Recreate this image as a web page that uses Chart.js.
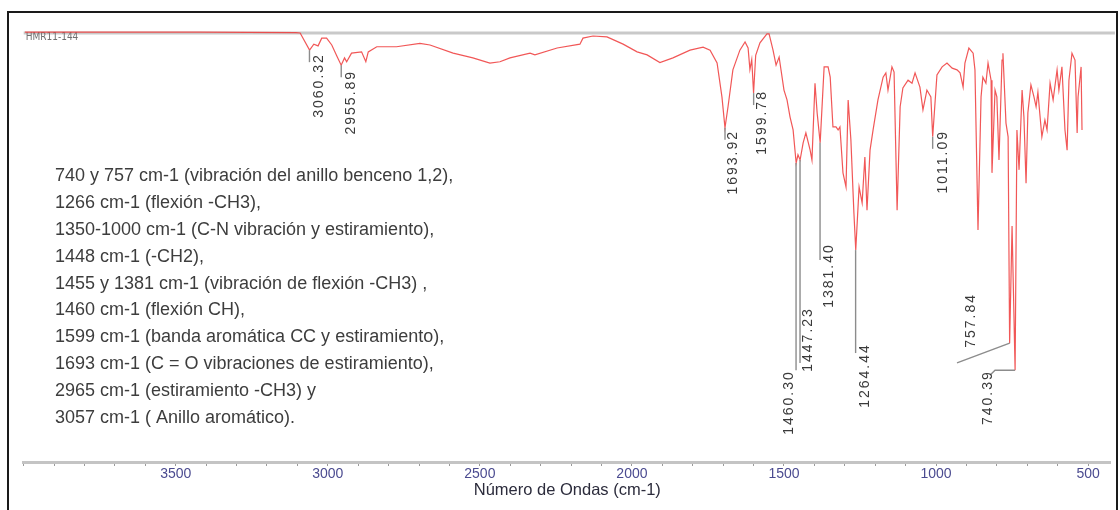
<!DOCTYPE html>
<html lang="es">
<head>
<meta charset="UTF-8">
<title>Espectro IR HMR11-144</title>
<script src="https://cdn.jsdelivr.net/npm/chart.js"></script>
<style>
  html, body { margin: 0; padding: 0; background: #fff; }
  #wrap { position: relative; width: 1120px; height: 510px; }
</style>
</head>
<body>
<div id="wrap"><canvas id="chart" width="1120" height="510"></canvas></div>
<script>
// número de onda (cm-1), de mayor a menor
const waveNumbers = [
  3996, 3750, 3420, 3105, 3091, 3060, 3046, 3032, 3020, 3004, 2987, 2970, 2956, 2945, 2938, 2922,
  2889, 2875, 2867, 2839, 2774, 2697, 2664, 2588, 2523, 2467, 2434, 2401, 2335, 2319, 2246, 2171,
  2161, 2128, 2082, 2029, 1983, 1950, 1908, 1865, 1809, 1766, 1743, 1720, 1704, 1694, 1684, 1668,
  1645, 1628, 1618, 1612, 1606, 1600, 1593, 1579, 1556, 1549, 1536, 1526, 1516, 1500, 1490, 1480,
  1470, 1460, 1454, 1447, 1437, 1428, 1414, 1408, 1398, 1391, 1381, 1368, 1355, 1348, 1339, 1329,
  1322, 1316, 1306, 1296, 1289, 1280, 1270, 1264, 1253, 1243, 1234, 1227, 1217, 1207, 1191, 1174,
  1165, 1158, 1145, 1138, 1128, 1118, 1109, 1092, 1079, 1069, 1053, 1043, 1030, 1017, 1011, 997,
  980, 964, 947, 931, 921, 911, 905, 892, 878, 872, 862, 852, 846, 836, 829, 819,
  816, 806, 800, 793, 783, 780, 770, 763, 758, 750, 740, 734, 727, 717, 711, 704,
  698, 688, 678, 671, 665, 652, 642, 635, 625, 615, 602, 596, 586, 576, 569, 563,
  553, 543, 536, 533, 523, 520
];
// transmitancia (%T)
const transmittance = [
  100.2, 100.2, 100.2, 100.1, 100.0, 96.0, 97.4, 97.0, 98.8, 98.8, 97.2, 94.6, 92.5, 94.2, 93.3, 95.3,
  95.6, 93.3, 95.6, 96.8, 96.8, 97.6, 97.2, 95.3, 94.2, 93.0, 93.3, 94.2, 95.3, 94.9, 96.5, 97.4,
  98.8, 99.3, 99.1, 97.4, 95.6, 94.9, 93.1, 94.2, 96.0, 96.7, 96.0, 93.0, 85.1, 77.9, 82.8, 91.4,
  96.0, 97.9, 96.5, 91.5, 93.8, 86.0, 94.8, 97.7, 99.8, 99.8, 96.0, 92.5, 94.4, 86.7, 84.4, 80.4,
  77.4, 69.7, 71.6, 70.4, 74.4, 76.7, 72.7, 70.4, 88.3, 81.4, 74.4, 92.1, 92.1, 89.7, 78.1, 78.1,
  77.4, 78.1, 67.4, 64.1, 84.4, 75.1, 58.0, 49.4, 64.1, 60.4, 71.1, 58.7, 72.7, 77.4, 84.4, 89.7,
  90.7, 86.7, 92.1, 90.9, 58.7, 82.8, 87.2, 89.0, 88.3, 90.7, 87.4, 82.1, 86.7, 85.1, 75.8, 90.2,
  92.1, 93.0, 91.8, 91.4, 90.7, 87.4, 93.0, 96.5, 95.3, 91.4, 54.1, 85.1, 89.7, 88.3, 93.0, 89.0,
  67.4, 86.7, 85.1, 70.4, 93.7, 95.3, 79.0, 75.8, 27.7, 55.0, 21.4, 77.4, 68.1, 86.7, 80.4, 65.0,
  81.4, 87.9, 85.1, 82.8, 86.2, 75.8, 79.7, 77.4, 88.3, 84.4, 91.4, 86.7, 92.1, 77.4, 72.7, 89.0,
  95.3, 93.7, 76.7, 85.1, 92.1, 77.4
];

const xTickLabels = [3500, 3000, 2500, 2000, 1500, 1000, 500];

const peakLabels = ['3060.32', '2955.89', '1693.92', '1599.78', '1460.30', '1447.23',
                    '1381.40', '1264.44', '1011.09', '757.84', '740.39'];

// fin de la línea (%T), desplazamiento del texto (px), parte alta del texto (%T)
const labelLayout = [
  { lineTo: 93.2, dx: 10, top: 95.3 },
  { lineTo: 89.7, dx: 10, top: 91.4 },
  { lineTo: 75.1, dx: 8, top: 77.4 },
  { lineTo: 83.2, dx: 9, top: 86.7 },
  { lineTo: 21.4, dx: -7, top: 21.4 },
  { lineTo: 23.1, dx: 8, top: 36.1 },
  { lineTo: 47.1, dx: 9, top: 51.0 },
  { lineTo: 25.4, dx: 10, top: 27.7 },
  { lineTo: 73.0, dx: 10, top: 77.4 },
  { leader: [[931, 23.1]], dx: -39, top: 39.4 },
  { leader: [[806, 21.4], [822, 20.3]], dx: -27, top: 21.4 }
];

const notes = [
  '740 y 757 cm-1 (vibración del anillo benceno 1,2),',
  '1266 cm-1 (flexión -CH3),',
  '1350-1000 cm-1 (C-N vibración y estiramiento),',
  '1448 cm-1 (-CH2),',
  '1455 y 1381 cm-1 (vibración de flexión -CH3) ,',
  '1460 cm-1 (flexión CH),',
  '1599 cm-1 (banda aromática CC y estiramiento),',
  '1693 cm-1 (C = O vibraciones de estiramiento),',
  '2965 cm-1 (estiramiento -CH3) y',
  '3057 cm-1 ( Anillo aromático).'
];

const sampleName = 'HMR11-144';

// busca el %T del punto más cercano a un número de onda
function valueAt(v) {
  let best = 0;
  for (let i = 1; i < waveNumbers.length; i++) {
    if (Math.abs(waveNumbers[i] - v) < Math.abs(waveNumbers[best] - v)) best = i;
  }
  return transmittance[best];
}

const spectrumDecor = {
  id: 'spectrumDecor',
  beforeDraw(chart) {
    const { ctx, chartArea: a } = chart;
    ctx.save();
    ctx.fillStyle = '#fff';
    ctx.fillRect(0, 0, chart.width, chart.height);
    // marco exterior
    ctx.strokeStyle = '#1a1a1a';
    ctx.lineWidth = 2;
    ctx.strokeRect(8, 12, 1109, 520);
    // línea gris superior
    ctx.fillStyle = '#c9c9c9';
    ctx.fillRect(a.left, a.top - 1.5, a.right - a.left + 4, 3);
    ctx.restore();
  },
  beforeDatasetsDraw(chart) {
    const { ctx, chartArea: a } = chart;
    ctx.save();
    ctx.fillStyle = '#707070';
    ctx.font = '10px "DejaVu Sans Condensed", "Liberation Sans", sans-serif';
    ctx.textBaseline = 'middle';
    ctx.fillText(sampleName, a.left + 2, a.top + 4);
    ctx.restore();
  },
  afterDatasetsDraw(chart) {
    const { ctx } = chart;
    const xs = chart.scales.x, ys = chart.scales.y;
    ctx.save();

    // etiquetas de picos
    peakLabels.forEach((label, i) => {
      const lay = labelLayout[i];
      const v = parseFloat(label);
      const px = xs.getPixelForValue(v);
      const py = ys.getPixelForValue(valueAt(v));
      ctx.strokeStyle = '#8c8c8c';
      ctx.lineWidth = 1.4;
      ctx.beginPath();
      ctx.moveTo(px, py);
      if (lay.leader) {
        lay.leader.forEach(p => ctx.lineTo(xs.getPixelForValue(p[0]), ys.getPixelForValue(p[1])));
      } else {
        ctx.lineTo(px, ys.getPixelForValue(lay.lineTo));
      }
      ctx.stroke();

      ctx.save();
      ctx.translate(px + lay.dx, ys.getPixelForValue(lay.top));
      ctx.rotate(-Math.PI / 2);
      ctx.fillStyle = '#3a3a3a';
      ctx.font = '14px "Liberation Sans", Arial, sans-serif';
      ctx.letterSpacing = '2px';
      ctx.textAlign = 'right';
      ctx.textBaseline = 'middle';
      ctx.fillText(label, 0, 0);
      ctx.restore();
    });

    // texto de asignaciones
    ctx.fillStyle = '#3d3d3d';
    ctx.font = '18px "Liberation Sans", Arial, sans-serif';
    ctx.textAlign = 'left';
    ctx.textBaseline = 'middle';
    notes.forEach((line, i) => ctx.fillText(line, 55, 176 + i * 26.9));

    ctx.restore();
  }
};

const ctx = document.getElementById('chart').getContext('2d');
new Chart(ctx, {
  type: 'line',
  data: {
    datasets: [{
      label: sampleName,
      data: waveNumbers.map((v, i) => ({ x: v, y: transmittance[i] })),
      borderColor: 'rgba(238, 58, 58, 0.85)',
      borderWidth: 1.2,
      pointRadius: 0,
      tension: 0,
      clip: false
    }]
  },
  options: {
    responsive: false,
    devicePixelRatio: 1,
    animation: false,
    layout: { padding: { top: 33, left: 23.7, right: 9.1, bottom: 0 } },
    plugins: { legend: { display: false }, tooltip: { enabled: false } },
    scales: {
      x: {
        type: 'linear',
        reverse: true,
        min: 425,
        max: 4000,
        afterFit(scale) { scale.height = 48; },
        border: { display: true, color: '#c4c4c4', width: 3 },
        grid: { drawOnChartArea: false, drawTicks: true, tickLength: 4, color: '#9a9a9a' },
        ticks: {
          stepSize: 100,
          includeBounds: false,
          autoSkip: false,
          maxRotation: 0,
          padding: 0,
          color: '#4b4b90',
          font: { family: '"Liberation Sans", Arial, sans-serif', size: 14 },
          callback: v => xTickLabels.includes(v) ? String(v) : ''
        },
        title: {
          display: true,
          text: 'Número de Ondas (cm-1)',
          color: '#2c2c3c',
          font: { family: '"Liberation Sans", Arial, sans-serif', size: 16.5 },
          padding: { top: 0, bottom: 10 }
        }
      },
      y: { display: false, min: 0, max: 100 }
    }
  },
  plugins: [spectrumDecor]
});
</script>
</body>
</html>
